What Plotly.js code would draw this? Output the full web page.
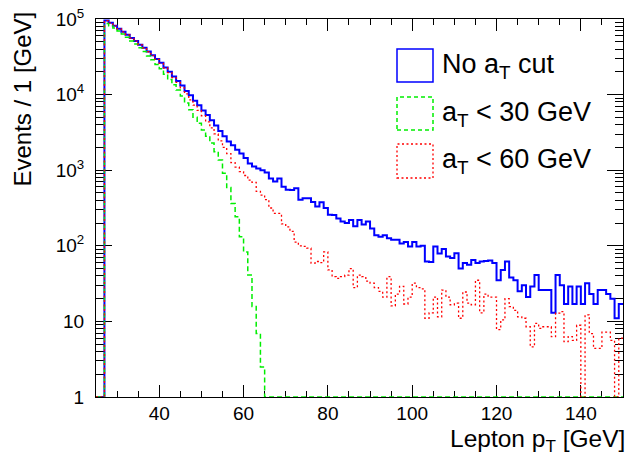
<!DOCTYPE html>
<html>
<head>
<meta charset="utf-8">
<script src="https://cdn.plot.ly/plotly-3.0.1.min.js"></script>
<style>html,body{margin:0;padding:0;background:#fff;}#chart{width:627px;height:455px;}</style>
</head>
<body>
<div id="chart"></div>
<script>
// ---------------- data (events per 1 GeV bin, bins 25..149 GeV) ----------------
const X_MIN = 25, X_MAX = 150, BIN_WIDTH = 1;
const binLowEdges = [];
for (let e = X_MIN; e < X_MAX; e += BIN_WIDTH) binLowEdges.push(e);

const seriesNames = ["No a<sub>T</sub> cut", "a<sub>T</sub> < 30 GeV", "a<sub>T</sub> < 60 GeV"];

const noCut = [
  0, 0, 95500, 89100, 81300, 74100, 67600, 61700, 56200, 51300,
  45700, 41700, 37200, 33100, 29500, 26300, 22900, 20000, 17400, 15100,
  13200, 11200, 9770, 8320, 7240, 6170, 5370, 4570, 3890, 3310,
  2820, 2400, 2140, 1860, 1660, 1450, 1230, 1120, 1050, 1000,
  933, 776, 708, 776, 603, 550, 548, 575, 407, 427,
  425, 380, 331, 378, 316, 257, 255, 229, 209, 200,
  219, 182, 219, 191, 209, 170, 138, 132, 138, 126,
  120, 120, 107, 112, 98, 112, 98, 100, 62, 61,
  98, 79, 91, 72, 69, 80, 50, 59, 56, 65,
  59, 62, 63, 64, 59, 35, 48, 62, 38, 35,
  25, 30, 21, 29, 41, 26, 26, 26, 13, 41,
  30, 17, 29, 17, 29, 17, 32, 23, 17, 26,
  26, 23, 20, 11, 17
];

const cut30 = [
  0, 0, 87100, 81300, 75900, 69200, 63100, 57500, 51300, 46800,
  41700, 37200, 32400, 28800, 25100, 21900, 18600, 15800, 13500, 11500,
  9550, 7760, 6310, 5010, 4170, 3390, 2820, 2290, 1760, 1360,
  912, 589, 363, 243, 132, 83, 41, 15.7, 6.9, 2.5,
  0, 0, 0, 0, 0, 0, 0, 0, 0, 0,
  0, 0, 0, 0, 0, 0, 0, 0, 0, 0,
  0, 0, 0, 0, 0, 0, 0, 0, 0, 0,
  0, 0, 0, 0, 0, 0, 0, 0, 0, 0,
  0, 0, 0, 0, 0, 0, 0, 0, 0, 0,
  0, 0, 0, 0, 0, 0, 0, 0, 0, 0,
  0, 0, 0, 0, 0, 0, 0, 0, 0, 0,
  0, 0, 0, 0, 0, 0, 0, 0, 0, 0,
  0, 0, 0, 0, 0
];

const cut60 = [
  0, 0, 95300, 88900, 81100, 73900, 67400, 61500, 56000, 51100,
  45500, 41400, 36900, 32800, 29200, 25900, 22500, 19500, 16800, 14500,
  12300, 10200, 8510, 7240, 6170, 5250, 4370, 3630, 3020, 2450,
  2000, 1660, 1260, 1100, 955, 851, 741, 692, 525, 468,
  407, 316, 269, 268, 195, 178, 155, 112, 100, 98,
  93, 59, 62, 60, 83, 48, 39, 37, 39, 41,
  50, 28, 41, 39, 34, 32, 28, 25, 21, 39,
  16, 23, 29, 17, 21, 32, 28, 27, 11, 13,
  21, 11.5, 26, 21, 16.6, 17.4, 11, 24.5, 17.4, 16.6,
  35, 13, 23, 21, 21, 7.8, 10.5, 20, 15.7, 14,
  11.5, 11, 8.5, 4.6, 9.4, 8.1, 8.5, 8.5, 6.3, 12.9,
  13.5, 5.4, 6.3, 5.6, 8.9, 0, 12.2, 6.9, 4.4, 4.4,
  7.2, 7.2, 5.6, 0, 6
];

const yTickValues = [1, 10, 100, 1000, 10000, 100000];
const yTickLabels = ["1", "10", "10<sup>2</sup>", "10<sup>3</sup>", "10<sup>4</sup>", "10<sup>5</sup>"];
const xTitle = "Lepton p<sub>T</sub> [GeV]";
const yTitle = "Events / 1 [GeV]";

// ---------------- drawing ----------------
const W = 627, H = 455;
const M = {l: 96, r: 4, t: 19, b: 58};
const PW = W - M.l - M.r, PH = H - M.t - M.b;
const px2x = p => (p - M.l) / PW;
const px2y = p => (H - M.b - p) / PH;
const Y_FLOOR = 1; // empty bins drawn on the frame bottom, as ROOT does

function stepTrace(values, color, width, dash) {
  const xs = binLowEdges.slice();
  const ys = values.map(v => (v > 0 ? v : Y_FLOOR));
  xs.push(X_MAX);
  ys.push(ys[ys.length - 1]);
  return {
    type: "scatter", mode: "lines", x: xs, y: ys,
    line: {shape: "hv", color: color, width: width, dash: dash},
    hoverinfo: "skip", showlegend: false
  };
}

const BLUE = "#0000ff", GREEN = "#00ee00", RED = "#ff0000";
const traces = [
  stepTrace(noCut, BLUE, 2, "solid"),
  stepTrace(cut30, GREEN, 1.5, "5px,3px"),
  stepTrace(cut60, RED, 1.3, "2px,2.5px")
];

const yMinor = [];
for (let d = 0; d < 5; d++) for (let k = 2; k <= 9; k++) yMinor.push(k * Math.pow(10, d));

const fontFam = "Liberation Sans, Arial, Helvetica, sans-serif";

const legendRows = [
  {name: seriesNames[0], color: BLUE, dash: "solid", width: 1.5, top: 49, bottom: 82, cy: 66},
  {name: seriesNames[1], color: GREEN, dash: "4px,3px", width: 1.5, top: 97, bottom: 130, cy: 114},
  {name: seriesNames[2], color: RED, dash: "2px,2.5px", width: 1.3, top: 144, bottom: 178, cy: 161}
];
const shapes = legendRows.map(r => ({
  type: "rect", xref: "paper", yref: "paper",
  x0: px2x(397), x1: px2x(433), y0: px2y(r.bottom), y1: px2y(r.top),
  line: {color: r.color, width: r.width, dash: r.dash}, fillcolor: "rgba(0,0,0,0)"
}));
const annotations = legendRows.map(r => ({
  xref: "paper", yref: "paper", x: px2x(440), y: px2y(r.cy),
  xanchor: "left", yanchor: "middle", showarrow: false, text: r.name,
  font: {family: fontFam, size: 27, color: "#000"}
}));
annotations.push({
  xref: "paper", yref: "paper", x: px2x(626), y: px2y(440),
  xanchor: "right", yanchor: "middle", showarrow: false, text: xTitle, borderpad: 0,
  font: {family: fontFam, size: 24.5, color: "#000"}
});
annotations.push({
  xref: "paper", yref: "paper", x: px2x(22), y: px2y(10),
  xanchor: "center", yanchor: "top", showarrow: false, text: yTitle, textangle: -90,
  font: {family: fontFam, size: 24, color: "#000"}
});

const layout = {
  width: W, height: H, margin: {l: M.l, r: M.r, t: M.t, b: M.b, pad: 0},
  paper_bgcolor: "#fff", plot_bgcolor: "#fff", showlegend: false,
  font: {family: fontFam, color: "#000"},
  xaxis: {
    range: [X_MIN, X_MAX], showline: true, linecolor: "#000", linewidth: 1, mirror: "allticks",
    ticks: "inside", ticklen: 12, tickwidth: 1, tickcolor: "#000", tick0: 0, dtick: 20,
    showgrid: false, zeroline: false, layer: "below traces",
    tickfont: {family: fontFam, size: 19, color: "#000"}, ticklabelstandoff: -1,
    minor: {ticks: "inside", ticklen: 6, tickwidth: 1, tickcolor: "#000", tick0: 0, dtick: 5, showgrid: false}
  },
  yaxis: {
    type: "log", range: [0, 5], showline: true, linecolor: "#000", linewidth: 1, mirror: "allticks",
    ticks: "inside", ticklen: 16, tickwidth: 1, tickcolor: "#000",
    tickmode: "array", tickvals: yTickValues, ticktext: yTickLabels,
    showgrid: false, zeroline: false, layer: "below traces",
    tickfont: {family: fontFam, size: 19, color: "#000"}, ticklabelstandoff: 7,
    minor: {tickmode: "array", tickvals: yMinor, ticks: "inside", ticklen: 8, tickwidth: 1, tickcolor: "#000", showgrid: false}
  },
  shapes: shapes,
  annotations: annotations
};

Plotly.newPlot("chart", traces, layout, {staticPlot: true, displayModeBar: false});
</script>
</body>
</html>
